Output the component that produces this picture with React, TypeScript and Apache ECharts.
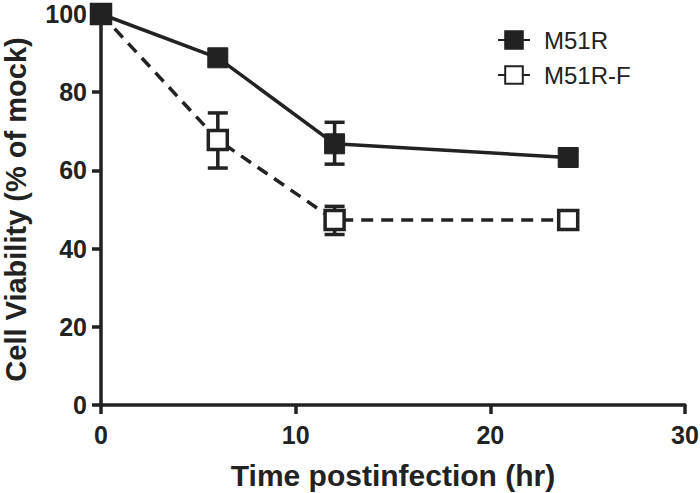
import React, { useEffect, useRef } from "react";
import * as echarts from "echarts";

const times = [0, 6, 12, 24];
const m51r = [100, 88.8, 66.8, 63.3];
const m51rF = [100, 67.8, 47.3, 47.3];
// [time, low, high]
const m51rErr = [[12, 61.6, 72.3]];
const m51rFErr = [
  [6, 60.6, 74.7],
  [12, 43.6, 50.8],
];
const yTicks = [0, 20, 40, 60, 80, 100];
const xTicks = [0, 10, 20, 30];

const INK = "#222";
const FONT = "'Liberation Sans', Arial, Helvetica, sans-serif";

export default function App() {
  const ref = useRef<HTMLDivElement>(null);
  useEffect(() => {
    if (!ref.current) return;
    document.body.style.margin = "0";
    const chart = echarts.init(ref.current, null, { renderer: "svg" });
    const errData = [...m51rErr, ...m51rFErr];
    const renderErr = (params: any, api: any) => {
      const x = api.value(0);
      const lo = api.coord([x, api.value(1)]);
      const hi = api.coord([x, api.value(2)]);
      const cap = 10;
      const style = { stroke: INK, lineWidth: 3.5 };
      return {
        type: "group",
        children: [
          { type: "line", shape: { x1: lo[0], y1: lo[1], x2: hi[0], y2: hi[1] }, style },
          { type: "line", shape: { x1: lo[0] - cap, y1: lo[1], x2: lo[0] + cap, y2: lo[1] }, style },
          { type: "line", shape: { x1: hi[0] - cap, y1: hi[1], x2: hi[0] + cap, y2: hi[1] }, style },
        ],
      };
    };
    chart.setOption({
      animation: false,
      backgroundColor: "#fff",
      textStyle: { fontFamily: FONT },
      grid: {
        left: 101,
        right: 15,
        top: 14,
        bottom: 88,
        containLabel: false,
        outerBoundsMode: "none",
      },
      legend: {
        orient: "vertical",
        left: 492,
        top: 23,
        itemWidth: 32,
        itemHeight: 22,
        itemGap: 11,
        textStyle: { fontSize: 24, color: INK, fontFamily: FONT, padding: [0, 0, 0, 9] },
        data: ["M51R", "M51R-F"],
      },
      xAxis: {
        type: "value",
        min: 0,
        max: 30,
        interval: 10,
        name: "Time postinfection (hr)",
        nameLocation: "middle",
        nameGap: 55,
        nameTextStyle: { fontSize: 30, fontWeight: "bold", color: INK, fontFamily: FONT },
        axisLine: { lineStyle: { color: INK, width: 3.5 } },
        axisTick: { show: true, length: 9, lineStyle: { color: INK, width: 3.5 } },
        axisLabel: {
          fontSize: 25,
          fontWeight: "bold",
          color: INK,
          margin: 17,
          fontFamily: FONT,
          customValues: xTicks,
        },
        splitLine: { show: false },
      },
      yAxis: {
        type: "value",
        min: 0,
        max: 100,
        interval: 20,
        name: "Cell Viability (% of mock)",
        nameLocation: "middle",
        nameGap: 71,
        nameTextStyle: {
          fontSize: 29,
          lineHeight: 28,
          fontWeight: "bold",
          color: INK,
          fontFamily: FONT,
        },
        axisLine: { show: true, lineStyle: { color: INK, width: 3.5 } },
        axisTick: { show: true, length: 9, lineStyle: { color: INK, width: 3.5 } },
        axisLabel: {
          fontSize: 25,
          lineHeight: 20,
          fontWeight: "bold",
          color: INK,
          margin: 14,
          fontFamily: FONT,
          customValues: yTicks,
        },
        splitLine: { show: false },
      },
      series: [
        {
          type: "custom",
          name: "err",
          renderItem: renderErr,
          data: errData,
          z: 1,
          encode: { x: 0, y: [1, 2] },
          silent: true,
        },
        {
          type: "line",
          name: "M51R-F",
          data: times.map((t, i) => [t, m51rF[i]]),
          symbol: "rect",
          symbolSize: 19,
          lineStyle: { color: INK, width: 3.5, type: [12, 8] },
          itemStyle: { color: "#fff", borderColor: INK, borderWidth: 3.5 },
          z: 2,
        },
        {
          type: "line",
          name: "M51R",
          data: times.map((t, i) => [t, m51r[i]]),
          symbol: "rect",
          symbolSize: 20,
          lineStyle: { color: INK, width: 3.5 },
          itemStyle: { color: INK, borderColor: INK, borderWidth: 1 },
          z: 3,
        },
      ],
    });
    return () => chart.dispose();
  }, []);
  return <div ref={ref} style={{ width: 700, height: 493 }} />;
}
